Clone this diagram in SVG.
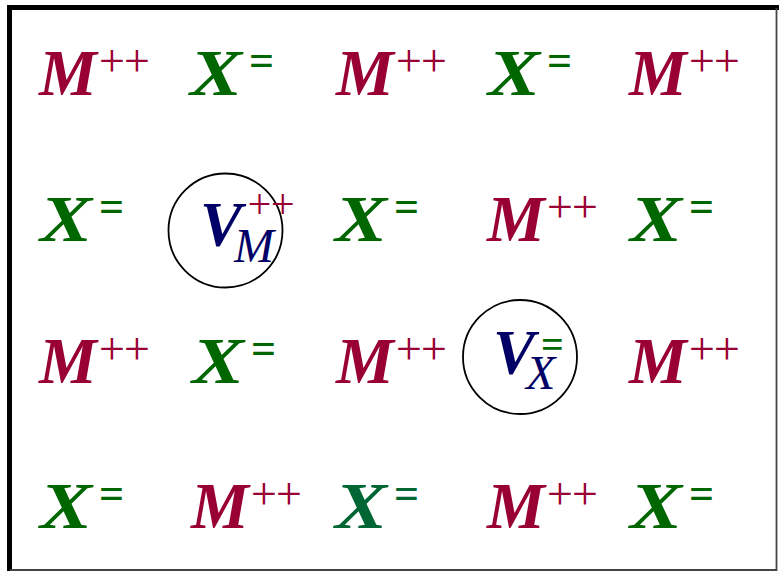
<svg xmlns="http://www.w3.org/2000/svg" width="779" height="571" viewBox="0 0 779 571">
<style>
text{font-family:"Liberation Serif","Times New Roman",serif}
.b{font-size:65px;font-weight:bold;font-style:italic}
.s{font-size:46px;font-style:italic;letter-spacing:-6px}
.e{font-size:44px;font-weight:bold}
.m{fill:#990033}
.x{fill:#006600}
.t{fill:#006633}
.v{fill:#000066}
.c{fill:none;stroke:#000;stroke-width:1.8}
</style>
<rect width="779" height="571" fill="#fff"/>
<path d="M9.5 571 V7.5 H779" fill="none" stroke="#000" stroke-width="5"/>
<path d="M776.5 8 V570 H10" fill="none" stroke="#444" stroke-width="1.8"/>
<defs>
<g id="M"><text class="b m" x="-1" y="0">M</text><text class="s m" x="56" y="-19">++</text></g>
<g id="X"><text class="b x" transform="scale(1.2,1)" x="0" y="0">X</text><text class="e x" x="59" y="-20">=</text></g>
</defs>
<g id="r1c1"><use href="#M" x="40" y="95"/></g>
<g id="r1c2"><use href="#X" x="190" y="95"/></g>
<g id="r1c3"><use href="#M" x="337" y="95"/></g>
<g id="r1c4"><use href="#X" x="488" y="95"/></g>
<g id="r1c5"><use href="#M" x="630" y="95"/></g>
<g id="r2c1"><use href="#X" x="40" y="241"/></g>
<g id="r2c2">
<circle class="c" cx="225.5" cy="230.5" r="57"/>
<text class="b v" x="200" y="246" style="font-size:63px">V</text>
<text class="s m" x="245" y="218" style="font-size:42px;letter-spacing:-5px">++</text>
<text class="s v" x="234" y="262" style="font-size:48px;letter-spacing:0">M</text>
</g>
<g id="r2c3"><use href="#X" x="335" y="241"/></g>
<g id="r2c4"><use href="#M" x="488" y="241"/></g>
<g id="r2c5"><use href="#X" x="630" y="241"/></g>
<g id="r3c1"><use href="#M" x="40" y="383"/></g>
<g id="r3c2"><use href="#X" x="192" y="383"/></g>
<g id="r3c3"><use href="#M" x="337" y="383"/></g>
<g id="r3c4">
<circle class="c" cx="520" cy="357" r="57"/>
<text class="b v" x="493" y="374" style="font-size:63px">V</text>
<text class="e x" x="541" y="358" style="font-size:40px">=</text>
<text class="s v" x="526" y="389" style="font-size:48px;letter-spacing:0">X</text>
</g>
<g id="r3c5"><use href="#M" x="630" y="383"/></g>
<g id="r4c1"><use href="#X" x="40" y="528"/></g>
<g id="r4c2"><use href="#M" x="192" y="528"/></g>
<g id="r4c3"><text class="b t" transform="translate(335 528) scale(1.2,1)" x="0" y="0">X</text><text class="e t" x="394" y="508">=</text></g>
<g id="r4c4"><use href="#M" x="488" y="528"/></g>
<g id="r4c5"><use href="#X" x="630" y="528"/></g>
</svg>
